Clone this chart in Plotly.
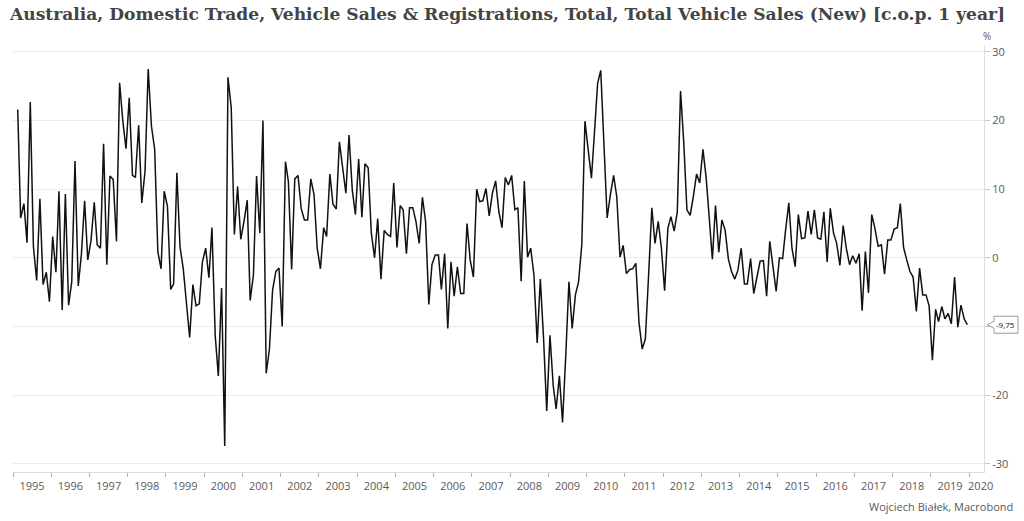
import pandas as pd
import plotly.graph_objects as go

# ---- data (year-over-year % change, monthly, Jan 1995 - Nov 2019) ----
start_month = "1995-01-15"
yoy_change = [
    # 1995
    21.6, 5.8, 7.9, 2.2, 22.7, 1.6, -3.3, 8.6, -3.9, -2.1, -6.4, 3.1,
    # 1996
    -2.1, 9.7, -7.6, 9.3, -6.9, -3.5, 14.1, -4.1, 0.5, 8.3, -0.3, 2.5,
    # 1997
    8.1, 1.9, 1.4, 16.6, -1.0, 11.9, 11.4, 2.4, 25.5, 19.9, 15.9, 23.3,
    # 1998
    12.0, 11.7, 19.3, 8.0, 12.6, 27.5, 19.2, 15.8, 0.9, -1.6, 9.7, 7.5,
    # 1999
    -4.6, -3.8, 12.4, 1.6, -1.6, -6.4, -11.6, -3.9, -7.0, -6.7, -0.6, 1.4,
    # 2000
    -2.9, 4.4, -11.3, -17.2, -4.4, -27.4, 26.3, 21.9, 3.4, 10.4, 2.7, 5.3,
    # 2001
    8.4, -6.2, -2.5, 11.9, 3.6, 20.0, -16.8, -13.3, -4.7, -2.0, -1.5, -10.0,
    # 2002
    14.0, 11.1, -1.7, 11.5, 12.0, 7.2, 5.5, 5.5, 11.5, 9.2, 1.4, -1.6,
    # 2003
    4.4, 3.1, 12.2, 7.8, 7.1, 16.9, 13.3, 9.4, 17.9, 9.9, 6.3, 14.4,
    # 2004
    5.9, 13.7, 13.1, 3.6, 0.0, 5.7, -3.1, 4.0, 3.4, 3.1, 10.9, 1.5,
    # 2005
    7.6, 7.0, 0.6, 7.3, 7.3, 5.3, 2.1, 8.8, 5.3, -6.8, -1.0, 0.4,
    # 2006
    0.4, -4.6, 0.6, -10.3, -0.6, -5.6, -1.3, -5.2, -5.2, 5.0, -0.3, -2.8,
    # 2007
    10.0, 8.2, 8.3, 10.1, 6.1, 9.4, 11.2, 6.7, 4.4, 11.7, 10.6, 12.0,
    # 2008
    7.0, 7.3, -3.4, 11.2, 0.1, 1.4, -2.5, -12.4, -3.1, -11.8, -22.3, -11.3,
    # 2009
    -18.6, -22.0, -17.2, -24.0, -14.2, -3.5, -10.3, -5.4, -3.5, 1.9, 19.9, 15.8,
    # 2010
    11.6, 18.0, 25.4, 27.3, 17.0, 5.8, 9.2, 12.0, 8.9, 0.1, 1.8, -2.3,
    # 2011
    -1.7, -1.6, -0.8, -9.4, -13.3, -11.8, -2.5, 7.3, 2.1, 5.3, 1.4, -4.8,
    # 2012
    4.3, 6.0, 3.9, 6.7, 24.3, 17.0, 7.0, 6.2, 8.9, 12.2, 10.9, 15.8,
    # 2013
    11.6, 5.8, -0.2, 7.6, 0.8, 5.5, 4.0, -0.2, -2.0, -3.1, -1.8, 1.4,
    # 2014
    -3.8, -3.8, -0.1, -5.2, -2.5, -0.5, -0.4, -5.6, 2.4, -1.1, -4.9, 0.0,
    # 2015
    -0.1, 4.0, 8.0, 1.4, -1.3, 6.3, 2.8, 2.9, 6.8, 3.4, 7.0, 2.9,
    # 2016
    2.7, 6.7, -0.6, 7.2, 3.6, 2.1, -1.1, 4.7, 1.4, -1.0, 0.3, -0.8,
    # 2017
    0.6, -7.7, 0.9, -5.1, 6.3, 4.3, 1.7, 1.9, -2.4, 2.6, 2.6, 4.2,
    # 2018
    4.4, 7.9, 1.5, -0.3, -2.0, -2.8, -7.8, -1.5, -5.4, -5.4, -7.0, -14.9,
    # 2019
    -7.5, -9.3, -7.1, -8.9, -8.1, -9.6, -2.8, -10.1, -6.9, -8.9, -9.75,
]
year_labels = [str(y) for y in range(1995, 2021)]
y_ticks = [-30, -20, -10, 0, 10, 20, 30]
# "-10" is hidden behind the last-value callout in the original
y_tick_text = ["-30", "-20", "", "0", "10", "20", "30"]
last_value_text = "-9,75"

title_text = ("Australia, Domestic Trade, Vehicle Sales & Registrations, Total, "
              "Total Vehicle Sales (New) [c.o.p. 1 year]")
source_text = "Wojciech Białek, Macrobond"

months = pd.date_range(start_month, periods=len(yoy_change), freq="MS") + pd.Timedelta(days=14)

# ---- layout geometry ----
W, H = 1024, 521
L, R, T, B = 13, 40, 45, 49
y_min, y_max = -31.2, 31.0
x_range = ["1995-01-01", "2020-05-22"]

label_pos = [f"{y}-07-02" for y in range(1995, 2020)] + ["2020-04-20"]
year_starts = [f"{y}-01-01" for y in range(1995, 2021)]

fig = go.Figure()
fig.add_trace(go.Scatter(
    x=months, y=yoy_change, mode="lines",
    line=dict(color="#111111", width=1.5),
    hoverinfo="x+y", showlegend=False,
))

grey_txt = "#5a5a5a"
fig.update_layout(
    width=W, height=H,
    margin=dict(l=L, r=R, t=T, b=B),
    paper_bgcolor="white", plot_bgcolor="white",
    title=dict(text=title_text, x=10 / W, xanchor="left", xref="container",
               y=1 - 14 / H, yanchor="middle", yref="container",
               font=dict(family="DejaVu Serif", size=17.1, color="#444444",
                         weight="bold")),
    xaxis=dict(
        type="date", range=x_range,
        tickmode="array", tickvals=label_pos, ticktext=year_labels,
        ticks="", showgrid=False, zeroline=False,
        showline=True, linecolor="#dcdcdc", linewidth=1,
        tickfont=dict(family="Open Sans", size=11, color=grey_txt),
        ticklabelstandoff=4,
        minor=dict(tickmode="array", tickvals=year_starts, ticks="outside",
                   ticklen=4, tickcolor="#b0b0b0", tickwidth=1, showgrid=False),
    ),
    yaxis=dict(
        side="right", range=[y_min, y_max],
        tickmode="array", tickvals=y_ticks, ticktext=y_tick_text,
        ticks="outside", ticklen=5, tickcolor="#c8c8c8",
        showgrid=True, gridcolor="#ebebeb", gridwidth=1, zeroline=False,
        showline=True, linecolor="#dcdcdc", linewidth=1,
        tickfont=dict(family="Open Sans", size=11, color=grey_txt),
    ),
)

# "%" unit label
fig.add_annotation(text="%", xref="paper", yref="paper", x=1 + 3 / (W - L - R),
                   y=(H - B - 36) / (H - T - B), xanchor="center", yanchor="middle",
                   showarrow=False, font=dict(family="Open Sans", size=10, color=grey_txt))

# source note
fig.add_annotation(text=source_text, xref="paper", yref="paper",
                   x=(1015 - L) / (W - L - R), y=-(506 - (H - B)) / (H - T - B),
                   xanchor="right", yanchor="middle", showarrow=False,
                   font=dict(family="Open Sans", size=11, color=grey_txt))

# last-value callout
pw = W - L - R
ph = H - T - B
last = yoy_change[-1]
def px_x(p):
    return (p - L) / pw
def val_y(v):
    return (v - y_min) / (y_max - y_min)
def px_dy(d):
    return d / ph
yc = val_y(last)
x_tip, x_box0, x_box1 = px_x(987), px_x(994), px_x(1018)
half_box, half_notch = px_dy(8.5), px_dy(3.5)
path = (f"M {x_tip},{yc} L {x_box0},{yc + half_notch} L {x_box0},{yc + half_box} "
        f"L {x_box1},{yc + half_box} L {x_box1},{yc - half_box} L {x_box0},{yc - half_box} "
        f"L {x_box0},{yc - half_notch} Z")
fig.add_shape(type="path", path=path, xref="paper", yref="paper",
              line=dict(color="#9a9a9a", width=1), fillcolor="white", layer="above")
fig.add_annotation(text=last_value_text, xref="paper", yref="paper",
                   x=(x_box0 + x_box1) / 2, y=yc, xanchor="center", yanchor="middle",
                   showarrow=False, font=dict(family="Open Sans", size=8, color="#111111"))

fig.write_html("out.html", config={"displayModeBar": False},
               post_script="document.body.style.margin='0px';")
